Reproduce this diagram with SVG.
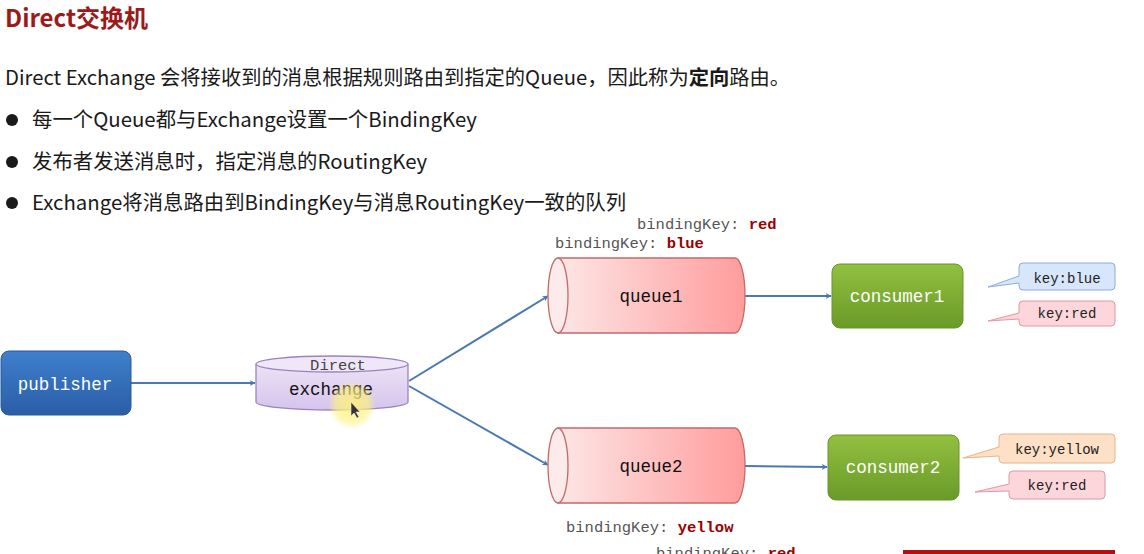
<svg xmlns="http://www.w3.org/2000/svg" width="1144" height="554" viewBox="0 0 1144 554">
<defs>
<style>
.cjk{font-family:"Noto Sans CJK SC","Noto Sans",sans-serif;fill:#1a1a1a}
.mono{font-family:"Liberation Mono","DejaVu Sans Mono",monospace}
.bk{font-size:15.5px;fill:#555}
.bkv{font-weight:bold;fill:#9a0000}
.lbl{font-size:17.5px;text-anchor:middle}
.key{font-size:14px;text-anchor:middle;fill:#222}
.conn{stroke:#4a78b4;stroke-width:2;fill:none;marker-end:url(#arr)}
</style>
<marker id="arr" viewBox="0 0 10 10" refX="9" refY="5" markerWidth="6" markerHeight="6" orient="auto" markerUnits="userSpaceOnUse">
<path d="M0,0 L10,5 L0,10 L3,5 Z" fill="#4a78b4"/>
</marker>
<linearGradient id="qg" x1="0" y1="0" x2="1" y2="0">
<stop offset="0" stop-color="#fde6e6"/><stop offset="1" stop-color="#ff9c9c"/>
</linearGradient>
<linearGradient id="pg" x1="0" y1="0" x2="0" y2="1">
<stop offset="0" stop-color="#3f7fcc"/><stop offset="1" stop-color="#2a5ea6"/>
</linearGradient>
<linearGradient id="cg" x1="0" y1="0" x2="0" y2="1">
<stop offset="0" stop-color="#92c040"/><stop offset="1" stop-color="#6a9a28"/>
</linearGradient>
<linearGradient id="eg" x1="0" y1="0" x2="0" y2="1">
<stop offset="0" stop-color="#ece2f6"/><stop offset="1" stop-color="#d6c4ec"/>
</linearGradient>
<radialGradient id="hl">
<stop offset="0" stop-color="#fff27a" stop-opacity="0.9"/><stop offset="0.7" stop-color="#fff27a" stop-opacity="0.6"/><stop offset="1" stop-color="#fff27a" stop-opacity="0"/>
</radialGradient>
</defs>
<rect width="1144" height="554" fill="#ffffff"/>

<g id="text">
<text x="5" y="27" class="cjk" style="font-size:24px;font-weight:bold;fill:#9b1b1b">Direct交换机</text>
<text x="5" y="85" class="cjk" style="font-size:20.3px">Direct Exchange 会将接收到的消息根据规则路由到指定的Queue，因此称为<tspan font-weight="bold">定向</tspan>路由。</text>
<circle cx="12" cy="120" r="6" fill="#1a1a1a"/>
<text x="32" y="127" class="cjk" style="font-size:20.4px">每一个Queue都与Exchange设置一个BindingKey</text>
<circle cx="12" cy="162" r="6" fill="#1a1a1a"/>
<text x="32" y="169" class="cjk" style="font-size:20.4px">发布者发送消息时，指定消息的RoutingKey</text>
<circle cx="12" cy="203" r="6" fill="#1a1a1a"/>
<text x="32" y="210" class="cjk" style="font-size:20.4px">Exchange将消息路由到BindingKey与消息RoutingKey一致的队列</text>
</g>

<g id="binding-labels">
<text x="637" y="229" class="mono bk">bindingKey: <tspan class="bkv">red</tspan></text>
<text x="555" y="248" class="mono bk">bindingKey: <tspan class="bkv">blue</tspan></text>
<text x="566" y="532" class="mono bk">bindingKey: <tspan class="bkv">yellow</tspan></text>
<text x="656" y="558" class="mono bk">bindingKey: <tspan class="bkv">red</tspan></text>
</g>

<g id="connectors">
<line x1="131" y1="383" x2="255" y2="383" class="conn"/>
<line x1="409" y1="381" x2="548" y2="296" class="conn"/>
<line x1="409" y1="386" x2="548" y2="465" class="conn"/>
<line x1="745" y1="296" x2="831" y2="296" class="conn"/>
<line x1="745" y1="466" x2="827" y2="467" class="conn"/>
</g>

<g id="publisher">
<rect x="1" y="351" width="130" height="64" rx="8" fill="url(#pg)" stroke="#2a5a9a" stroke-width="1"/>
<text x="65" y="390" class="mono lbl" fill="#ffffff">publisher</text>
</g>

<g id="exchange">
<path d="M256,364 L256,402 A76,8 0 0 0 408,402 L408,364" fill="url(#eg)" stroke="#9a84c0" stroke-width="1.3"/>
<ellipse cx="332" cy="364" rx="76" ry="8" fill="#efe7f8" stroke="#9a84c0" stroke-width="1.3"/>
<text x="338" y="370" class="mono" style="font-size:15.5px;text-anchor:middle;fill:#444">Direct</text>
<text x="331" y="395" class="mono lbl" fill="#111">exchange</text>
</g>

<g id="queue1">
<path d="M558,258 L735,258 A10,37.5 0 0 1 735,333 L558,333 Z" fill="url(#qg)" stroke="#c46a6a" stroke-width="1.3"/>
<ellipse cx="558" cy="295.5" rx="10" ry="37.5" fill="#fdeaea" stroke="#c46a6a" stroke-width="1.3"/>
<text x="651" y="302" class="mono lbl" fill="#111">queue1</text>
</g>

<g id="queue2">
<path d="M558,428 L735,428 A10,37.5 0 0 1 735,503 L558,503 Z" fill="url(#qg)" stroke="#c46a6a" stroke-width="1.3"/>
<ellipse cx="558" cy="465.5" rx="10" ry="37.5" fill="#fdeaea" stroke="#c46a6a" stroke-width="1.3"/>
<text x="651" y="472" class="mono lbl" fill="#111">queue2</text>
</g>

<g id="consumer1">
<rect x="832" y="264" width="131" height="64" rx="8" fill="url(#cg)" stroke="#6a9428" stroke-width="1"/>
<text x="897" y="302" class="mono lbl" fill="#ffffff">consumer1</text>
</g>

<g id="consumer2">
<rect x="828" y="435" width="131" height="65" rx="8" fill="url(#cg)" stroke="#6a9428" stroke-width="1"/>
<text x="893" y="473" class="mono lbl" fill="#ffffff">consumer2</text>
</g>

<g id="callout-c1-blue">
<path d="M1023,263 H1111 a4,4 0 0 1 4,4 V286 a4,4 0 0 1 -4,4 H1023 a4,4 0 0 1 -4,-4 V283 L988,287 L1019,276 V267 a4,4 0 0 1 4,-4 Z" fill="#d8e6fb" stroke="#8eaad8" stroke-width="1"/>
<text x="1067" y="283" class="mono key">key:blue</text>
</g>
<g id="callout-c1-red">
<path d="M1023,301 H1111 a4,4 0 0 1 4,4 V322 a4,4 0 0 1 -4,4 H1023 a4,4 0 0 1 -4,-4 V319 L988,321 L1019,313 V305 a4,4 0 0 1 4,-4 Z" fill="#fcd6da" stroke="#e098a4" stroke-width="1"/>
<text x="1067" y="318" class="mono key">key:red</text>
</g>
<g id="callout-c2-yellow">
<path d="M1003,434 H1111 a4,4 0 0 1 4,4 V459 a4,4 0 0 1 -4,4 H1003 a4,4 0 0 1 -4,-4 V456 L963,458 L999,447 V438 a4,4 0 0 1 4,-4 Z" fill="#fde0c6" stroke="#e8b488" stroke-width="1"/>
<text x="1057" y="454" class="mono key">key:yellow</text>
</g>
<g id="callout-c2-red">
<path d="M1013,471 H1101 a4,4 0 0 1 4,4 V495 a4,4 0 0 1 -4,4 H1013 a4,4 0 0 1 -4,-4 V491 L975,492 L1009,484 V475 a4,4 0 0 1 4,-4 Z" fill="#fcd6da" stroke="#e098a4" stroke-width="1"/>
<text x="1057" y="490" class="mono key">key:red</text>
</g>

<g id="cursor">
<circle cx="352" cy="405" r="24" fill="url(#hl)"/>
<path d="M351,402 L351,416 L354,413 L357,418 L359,417 L356,412 L360,412 Z" fill="#333" stroke="#eee" stroke-width="0.6"/>
</g>

<rect x="903" y="550" width="212" height="4" fill="#b01010"/>
</svg>
